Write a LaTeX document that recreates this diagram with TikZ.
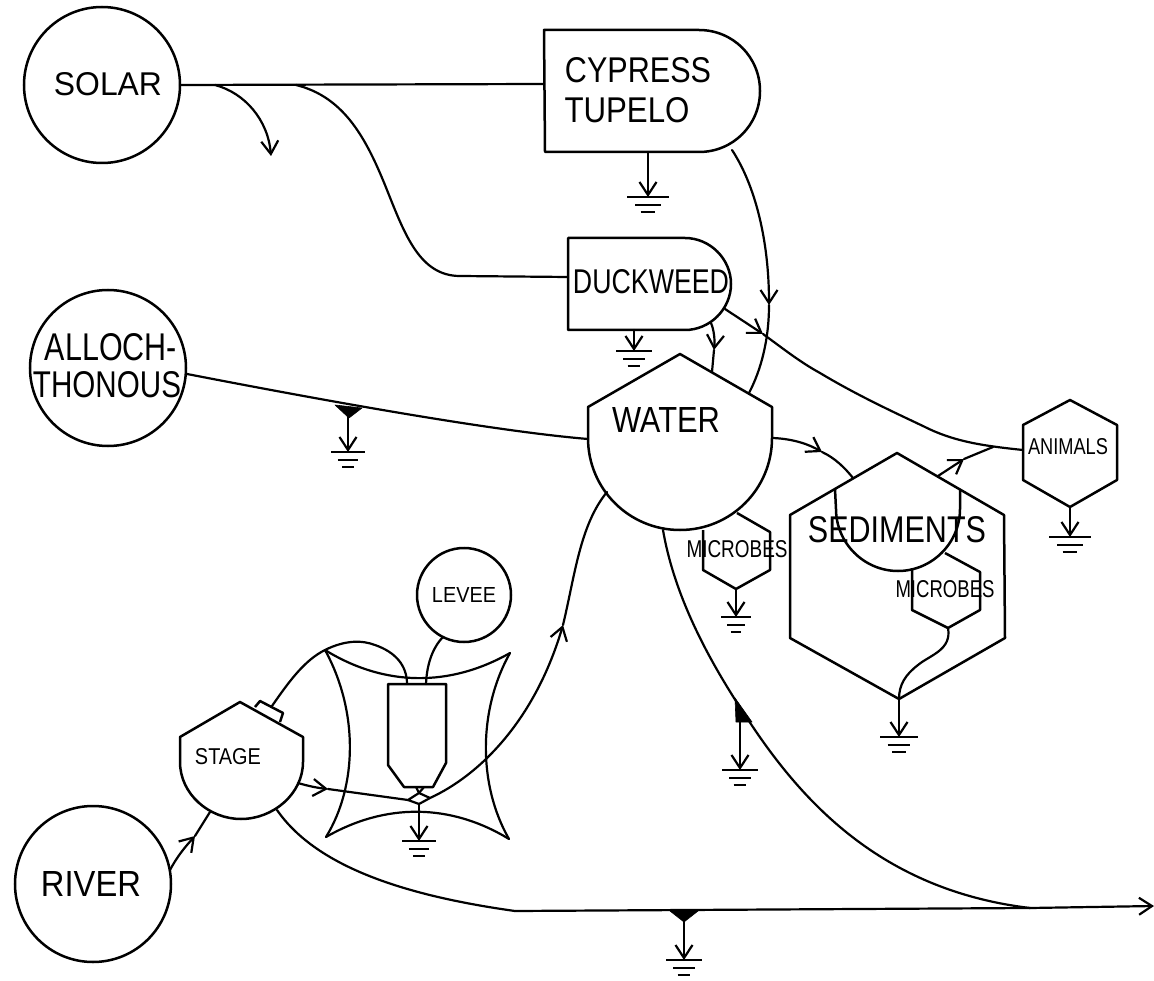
\documentclass[tikz,border=0pt]{standalone}
\usepackage{fontspec}
\usepackage{graphicx}
\setmainfont{Liberation Sans}
\usetikzlibrary{arrows.meta}
\newcommand{\fitlbl}[3]{\resizebox{#1pt}{#2pt}{#3}}
\newcommand{\gbars}[3]{% x, y, half-width of the top bar
  \draw[bar] ({#1-#3},#2) -- ({#1+#3},#2);
  \draw[barthin] ({#1-0.6*#3},{#2+8}) -- ({#1+0.6*#3},{#2+8});
  \draw[barthin] ({#1-0.35*#3},{#2+15}) -- ({#1+0.35*#3},{#2+15});}
\tikzset{
  x=1pt,y=-1pt,
  line/.style={line width=2.2pt,line join=round,line cap=round},
  shapeline/.style={line width=2.5pt,line join=round},
  src/.style={circle,draw,line width=2.5pt,inner sep=0pt,minimum size=#1},
  lbl/.style={inner sep=0pt,outer sep=0pt},
  bar/.style={line width=2.6pt},
  barthin/.style={line width=2.1pt},
  drain/.style={line,-{Straight Barb[length=13pt,width=17pt,line width=2.2pt]}},
  flowend/.style={line,-{Straight Barb[length=13pt,width=17pt,line width=2.2pt]}},
  blk/.style={fill=black,draw=black,line width=0.6pt,line join=round}
}
\begin{document}
\begin{tikzpicture}
\useasboundingbox (0,0) rectangle (1154,981);
\fill[white] (0,0) rectangle (1154,981);

% sources
\node[src=156pt] (solar) at (102,85) {};
\node[src=156pt] (alloch) at (108,368) {};
\node[src=156pt] (river) at (93,884) {};
\node[src=94pt] (levee) at (464,595) {};
\node[lbl] (tsolar) at (108,84) {\fitlbl{108}{23}{SOLAR}};
\node[lbl] (talloch) at (111,347) {\fitlbl{132}{27}{ALLOCH-}};
\node[lbl] (tthon) at (107,385) {\fitlbl{148}{26}{THONOUS}};
\node[lbl] (triver) at (91,884) {\fitlbl{100}{25}{RIVER}};
\node[lbl] (tlevee) at (464,595) {\fitlbl{64}{15}{LEVEE}};

% producers
\draw[shapeline] (544,30) -- (699,30) .. controls (733,30) and (760,57) .. (760,91) .. controls (760,125) and (733,152) .. (699,152) -- (545,152) -- cycle;
\node[lbl] (tcyp) at (638,70) {\fitlbl{146}{25}{CYPRESS}};
\node[lbl] (ttup) at (627,110) {\fitlbl{125}{25}{TUPELO}};
\draw[shapeline] (568,238) -- (685,238) .. controls (710,238) and (731,259) .. (731,284) .. controls (731,309) and (710,330) .. (685,330) -- (568,330) -- cycle;
\node[lbl] (tduck) at (651,282) {\fitlbl{156}{24}{DUCKWEED}};

% water tank
\draw[shapeline] (680,354) -- (772,407) -- (772,438) .. controls (772,489) and (731,530) .. (680,530) .. controls (629,530) and (588,489) .. (588,438) -- (588,407) -- cycle;
\node[lbl] (twater) at (666,420) {\fitlbl{108}{25}{WATER}};

% microbes in water
\draw[shapeline] (737,513) -- (770,532) -- (770,570) -- (736,589) -- (703,570) -- (703,530);
\node[lbl] (tmic) at (737,549) {\fitlbl{101}{17}{MICROBES}};

% sediments
\draw[shapeline] (897,453) -- (1004,515) -- (1005,638) -- (899,699) -- (790,638) -- (790,515) -- cycle;
\draw[shapeline] (835,489) -- (836,509) .. controls (836,543) and (864,571) .. (898,571) .. controls (932,571) and (960,543) .. (960,509) -- (960,489);
\node[lbl] (tsed) at (897,530) {\fitlbl{178}{26}{SEDIMENTS}};
\draw[shapeline] (945,553) -- (980,572) -- (980,610) -- (948,628) -- (912,610) -- (912,568);
\node[lbl] (tmicb) at (945,589) {\fitlbl{99}{17}{MICROBES}};

% animals
\draw[shapeline] (1070,400) -- (1117,425) -- (1117,480) -- (1070,507) -- (1023,480) -- (1023,425) -- cycle;
\node[lbl] (tanim) at (1068,447) {\fitlbl{80}{16}{ANIMALS}};

% stage
\draw[shapeline] (240,702) -- (303,737) -- (303,762) .. controls (303,794) and (273,819) .. (241,819) .. controls (209,819) and (180,794) .. (180,762) -- (180,737) -- cycle;
\draw[shapeline] (255,707) -- (260,701) -- (283,713) -- (280,722);
\node[lbl] (tstage) at (228,757) {\fitlbl{66}{16}{STAGE}};

% work gate box
\draw[line] (325,650) .. controls (385,687) and (450,687) .. (510,653);
\draw[line] (510,653) .. controls (478,710) and (478,785) .. (509,839);
\draw[line] (509,839) .. controls (450,803) and (385,803) .. (326,837);
\draw[line] (326,837) .. controls (358,785) and (358,710) .. (325,650);
\draw[shapeline] (388,684) -- (446,684) -- (446,763) -- (433,787) -- (404,787) -- (388,765) -- cycle;
\draw[line] (408,800) -- (419,793) -- (430,798) -- (419,804) -- cycle;
\draw[line] (416,787) -- (419,793) -- (424,787);

% named connector ends
\coordinate (sol1) at (180,85);
\coordinate (cypL) at (544,84);
\coordinate (br1) at (215,85);
\coordinate (br1e) at (271,156);
\coordinate (br2) at (296,85);
\coordinate (duckL) at (568,277);
\coordinate (allR) at (187,374);
\coordinate (watL) at (588,439);
\coordinate (cypB) at (732,150);
\coordinate (m1) at (769,305);
\coordinate (watT) at (749,393);
\coordinate (duckB) at (711,323);
\coordinate (m2) at (714,350);
\coordinate (watT2) at (712,372);
\coordinate (duckR) at (725,309);
\coordinate (m3) at (763,334);
\coordinate (animL) at (1023,450);
\coordinate (watR) at (773,438);
\coordinate (m4) at (822,452);
\coordinate (sedT) at (853,478);
\coordinate (sedT2) at (938,476);
\coordinate (m5) at (964,459);
\coordinate (animJ) at (993,447);
\coordinate (micB2) at (948,628);
\coordinate (sedB) at (899,699);
\coordinate (rivR) at (170,870);
\coordinate (m6) at (195,836);
\coordinate (stgB) at (210,812);
\coordinate (stgBR) at (277,810);
\coordinate (outJ) at (1030,908);
\coordinate (outE) at (1154,906);
\coordinate (watB) at (663,530);
\coordinate (watLL) at (607,492);
\coordinate (gateR) at (430,798);
\coordinate (m7) at (563,625);
\coordinate (gateL) at (408,800);
\coordinate (stgR) at (298,783);
\coordinate (m8) at (328,789);
\coordinate (sens) at (272,706);
\coordinate (gateT1) at (407,684);
\coordinate (gateT2) at (426,684);
\coordinate (levB) at (443,637);
\coordinate (gateB) at (419,804);

% connectors
\draw[line] (sol1) -- (cypL);
\draw[flowend] (br1) .. controls (245,93) and (268,120) .. (br1e);
\draw[line] (br2) .. controls (345,97) and (367,140) .. (387,190) .. controls (405,235) and (420,276) .. (460,276) -- (duckL);
\draw[line] (allR) .. controls (280,392) and (480,430) .. (watL);
\draw[flowend] (cypB) .. controls (755,185) and (769,240) .. (m1);
\draw[line] (m1) .. controls (769,340) and (761,370) .. (watT);
\draw[flowend] (duckB) .. controls (714,330) and (715,340) .. (m2);
\draw[line] (m2) -- (watT2);
\draw[flowend] (duckR) -- (m3);
\draw[line] (m3) .. controls (785,350) and (800,362) .. (820,373) .. controls (860,397) and (900,415) .. (925,427) .. controls (955,442) and (985,446) .. (animL);
\draw[flowend] (watR) .. controls (795,439) and (810,445) .. (m4);
\draw[line] (m4) .. controls (835,458) and (845,468) .. (sedT);
\draw[flowend] (sedT2) -- (m5);
\draw[line] (m5) -- (animJ);
\draw[line] (micB2) .. controls (952,650) and (930,655) .. (918,665) .. controls (905,675) and (899,685) .. (sedB);
\draw[flowend] (rivR) .. controls (178,855) and (186,846) .. (m6);
\draw[line] (m6) -- (stgB);
\draw[line] (stgBR) .. controls (315,865) and (400,895) .. (515,911);
\draw[line] (515,911) -- (outJ);
\draw[flowend] (outJ) -- (outE);
\draw[line] (watB) .. controls (675,600) and (712,665) .. (745,715) .. controls (800,800) and (880,890) .. (outJ);
\draw[flowend] (gateR) .. controls (480,775) and (535,720) .. (m7);
\draw[line] (m7) .. controls (575,575) and (580,525) .. (watLL);
\draw[flowend] (stgR) .. controls (308,786) and (318,788) .. (m8);
\draw[line] (m8) -- (gateL);
\draw[line] (sens) .. controls (290,680) and (305,660) .. (325,650) .. controls (345,640) and (362,640) .. (375,645) .. controls (395,652) and (407,665) .. (gateT1);
\draw[line] (gateT2) .. controls (427,660) and (435,645) .. (levB);

% heat sinks
\coordinate (g1) at (648,197); \coordinate (g1s) at (648,152);
\draw[drain] (g1s) -- (g1); \gbars{648}{197}{21}
\coordinate (g2) at (634,351); \coordinate (g2s) at (634,330);
\draw[drain] (g2s) -- (g2); \gbars{634}{351}{18}
\coordinate (g3) at (348,452); \coordinate (g3s) at (348,408);
\draw[drain] (g3s) -- (g3); \gbars{348}{452}{17}
\coordinate (g4) at (736,617); \coordinate (g4s) at (736,589);
\draw[drain] (g4s) -- (g4); \gbars{736}{617}{15}
\coordinate (g5) at (899,737);
\draw[drain] (sedB) -- (g5); \gbars{899}{737}{19}
\coordinate (g6) at (1070,537); \coordinate (g6s) at (1070,507);
\draw[drain] (g6s) -- (g6); \gbars{1070}{537}{21}
\coordinate (g7) at (740,770); \coordinate (g7s) at (740,715);
\draw[drain] (g7s) -- (g7); \gbars{740}{770}{18}
\coordinate (g8) at (684,960); \coordinate (g8s) at (684,915);
\draw[drain] (g8s) -- (g8); \gbars{684}{960}{18}
\coordinate (g9) at (419,841);
\draw[drain] (gateB) -- (g9); \gbars{419}{841}{17}

% black drain tabs
\draw[blk] (335,405) -- (362,408) -- (349,418) -- cycle;
\draw[blk] (670,911) -- (698,911) -- (684,922) -- cycle;
\draw[blk] (735,698) -- (752,722) -- (736,722) -- cycle;
\end{tikzpicture}
\end{document}
